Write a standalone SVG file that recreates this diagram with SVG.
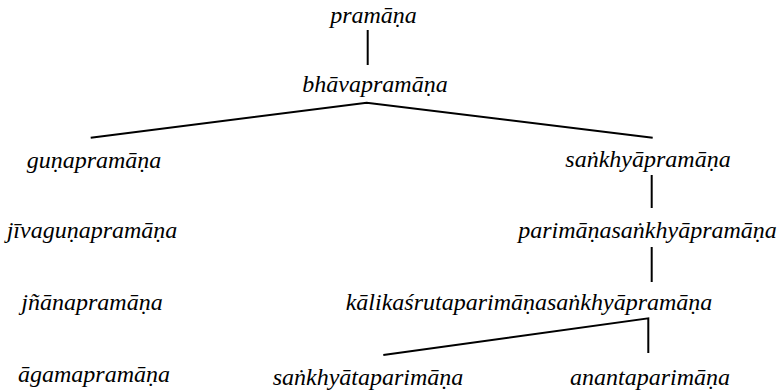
<svg xmlns="http://www.w3.org/2000/svg" width="779" height="392" viewBox="0 0 779 392">
<style>
#connectors line,#connectors polyline{stroke:#000;stroke-width:2;fill:none}
#nodes text{font-family:"Liberation Serif","Times New Roman",serif !important;font-style:italic !important;font-weight:normal !important;font-size:24px;fill:#000;text-anchor:middle}
</style>
<rect width="779" height="392" fill="#fff"/>
<g id="connectors">
<line x1="367.7" y1="30" x2="367.7" y2="65"/>
<polyline points="90.7,137.7 366.7,102.7 652.7,137.7"/>
<line x1="651.7" y1="175" x2="651.7" y2="208"/>
<line x1="651.7" y1="247" x2="651.7" y2="282"/>
<polyline points="383.3,355 648.3,318.3 648.3,353"/>
</g>
<g id="nodes">
<g id="pramana"><text x="373.5" y="23" style="font-family:'Liberation Serif',serif;font-style:italic">pramāṇa</text></g>
<g id="bhavapramana"><text x="375" y="92" style="font-family:'Liberation Serif',serif;font-style:italic">bhāvapramāṇa</text></g>
<g id="gunapramana"><text x="94" y="168" style="font-family:'Liberation Serif',serif;font-style:italic">guṇapramāṇa</text></g>
<g id="jivagunapramana"><text x="92" y="238" style="font-family:'Liberation Serif',serif;font-style:italic">jīvaguṇapramāṇa</text></g>
<g id="jnanapramana"><text x="92" y="310" style="font-family:'Liberation Serif',serif;font-style:italic">jñānapramāṇa</text></g>
<g id="agamapramana"><text x="94" y="382" style="font-family:'Liberation Serif',serif;font-style:italic">āgamapramāṇa</text></g>
<g id="sankhyapramana"><text x="648" y="167" style="font-family:'Liberation Serif',serif;font-style:italic">saṅkhyāpramāṇa</text></g>
<g id="parimanasankhyapramana"><text x="647.5" y="238" style="font-family:'Liberation Serif',serif;font-style:italic">parimāṇasaṅkhyāpramāṇa</text></g>
<g id="kalikasruta"><text x="529" y="310" style="font-family:'Liberation Serif',serif;font-style:italic">kālikaśrutaparimāṇasaṅkhyāpramāṇa</text></g>
<g id="sankhyataparimana"><text x="368" y="385" style="font-family:'Liberation Serif',serif;font-style:italic">saṅkhyātaparimāṇa</text></g>
<g id="anantaparimana"><text x="650" y="385" style="font-family:'Liberation Serif',serif;font-style:italic">anantaparimāṇa</text></g>
</g>
</svg>
